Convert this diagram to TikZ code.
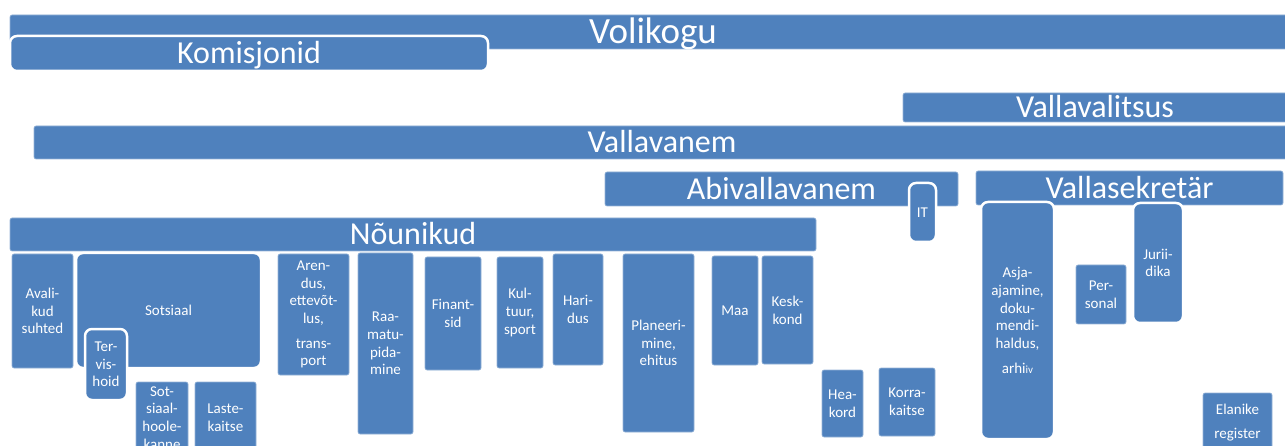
\documentclass[tikz,border=0pt]{standalone}
\usepackage{fontspec}
\setmainfont{Carlito}
\definecolor{boxblue}{HTML}{4F81BD}
\tikzset{
    unitbox/.style={fill=boxblue, draw=boxblue!60!white, line width=0.6pt, rounded corners=2pt, text=white, inner sep=0pt, align=center, font=\fontsize{15}{17.7}\selectfont},
    headbox/.style={unitbox, font=\fontsize{32}{36}\selectfont, text height=20.6pt, text depth=0pt},
    whiteframe/.style={draw=white, line width=2.5pt, rounded corners=7pt},
    dims/.style 2 args={minimum width=#1pt, minimum height=#2pt}
}

\begin{document}
\begin{tikzpicture}[x=1pt, y=-1pt]

	\clip (0,0) rectangle (1285,446);
	
	% volikogu ja komisjonid
	\node[headbox, dims={1286}{34}, font=\fontsize{37}{40}\selectfont, text height=23.8pt] (volikogu) at (653,32) {Volikogu};
	\node[headbox, whiteframe, dims={478}{35}] (komisjonid) at (249,53.5) {Komisjonid};
	
	% vallavalitsus
	\node[headbox, dims={384}{29}] (vallavalitsus) at (1095,107.5) {Vallavalitsus};
	\node[headbox, dims={1256}{33}] (vallavanem) at (662,142.5) {Vallavanem};
	\node[headbox, dims={353}{34}] (abivallavanem) at (781.5,189) {Abivallavanem};
	\node[unitbox, whiteframe, dims={27}{59}] (it) at (922.5,212.5) {IT};
	\node[headbox, dims={307}{34}] (vallasekretar) at (1129.5,188) {Vallasekretär};
	\node[headbox, dims={806}{33}] (nounikud) at (413,234.5) {Nõunikud};
	
	% nõunikud
	\node[unitbox, dims={61}{114}] (avalikud) at (42.5,311) {Avali-\\kud\\suhted};
	\node[unitbox, whiteframe, dims={185}{115}] (sotsiaal) at (168.5,310.5) {Sotsiaal};
	\node[unitbox, whiteframe, dims={42}{71}] (tervishoid) at (106,364.5) {Ter-\\vis-\\hoid};
	\node[unitbox, dims={52}{72}] (hoolekanne) at (162,418) {Sot-\\siaal-\\hoole-\\kanne};
	\node[unitbox, dims={61}{72}] (lastekaitse) at (225.5,418) {Laste-\\kaitse};
	\node[unitbox, dims={71}{121}] (arendus) at (313.5,314.5) {Aren-\\dus,\\ettevõt-\\lus,\\[7pt]trans-\\port};
	\node[unitbox, dims={55}{181}] (raamatupidamine) at (385.5,343.5) {Raa-\\matu-\\pida-\\mine};
	\node[unitbox, dims={56}{113}] (finantsid) at (453,313.5) {Finant-\\sid};
	\node[unitbox, dims={46}{111}] (kultuur) at (520,312.5) {Kul-\\tuur,\\sport};
	\node[unitbox, dims={50}{111}] (haridus) at (578,309.5) {Hari-\\dus};
	\node[unitbox, dims={71}{178}] (planeerimine) at (658.5,343) {Planeeri-\\mine,\\ehitus};
	\node[unitbox, dims={46}{109}] (maa) at (735,310.5) {Maa};
	\node[unitbox, dims={51}{108}] (keskkond) at (787.5,310) {Kesk-\\kond};
	
	% abivallavanem
	\node[unitbox, dims={41}{67}] (heakord) at (842.5,403.5) {Hea-\\kord};
	\node[unitbox, dims={56}{68}] (korrakaitse) at (907,402) {Korra-\\kaitse};
	
	% vallasekretär
	\node[unitbox, whiteframe, dims={73}{237}] (asjaajamine) at (1017.5,320.5) {Asja-\\ajamine,\\doku-\\mendi-\\haldus,\\[7pt]arhi{\fontsize{11}{13}\selectfont iv}};
	\node[unitbox, dims={50}{59}] (personal) at (1101,294.5) {Per-\\sonal};
	\node[unitbox, whiteframe, dims={50}{120}] (juriidika) at (1158,263) {Jurii-\\dika};
	\node[unitbox, dims={69}{59}] (elanikeregister) at (1237.5,422.5) {Elanike\\[7pt]register};

\end{tikzpicture}
\end{document}
